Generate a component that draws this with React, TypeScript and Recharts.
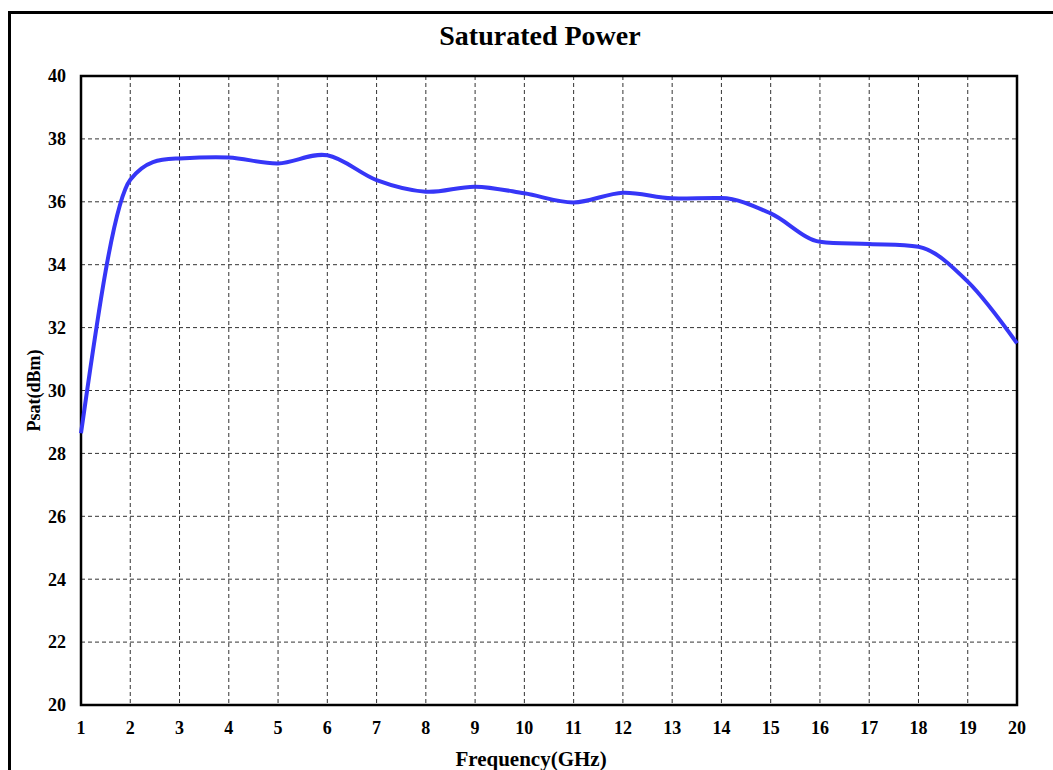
import { CartesianGrid, Line, LineChart, ReferenceArea, XAxis, YAxis } from "recharts";

const frequencies = [1, 2, 3, 4, 5, 6, 7, 8, 9, 10, 11, 12, 13, 14, 15, 16, 17, 18, 19, 20];
const psat = [
  28.64, 36.7, 37.38, 37.41, 37.22, 37.48, 36.69, 36.32, 36.48, 36.27,
  35.98, 36.29, 36.11, 36.12, 35.63, 34.73, 34.66, 34.57, 33.46, 31.5,
];
const xTicks = [1, 2, 3, 4, 5, 6, 7, 8, 9, 10, 11, 12, 13, 14, 15, 16, 17, 18, 19, 20];
const yTicks = [20, 22, 24, 26, 28, 30, 32, 34, 36, 38, 40];

const data = frequencies.map((f, i) => ({ f, psat: psat[i] }));

const FONT = '"Liberation Serif", "Times New Roman", serif';
const tickStyle = { fontFamily: FONT, fontWeight: 700, fontSize: 18, fill: "#000" };

// Excel-like smoothing: Catmull-Rom tangents, clamped so a steep side
// can't make the curve overshoot on the flat side.
function smoothCurve(context: any) {
  let xs: number[] = [];
  let ys: number[] = [];
  return {
    areaStart() {},
    areaEnd() {},
    lineStart() {
      xs = [];
      ys = [];
    },
    point(x: number, y: number) {
      xs.push(+x);
      ys.push(+y);
    },
    lineEnd() {
      const n = xs.length;
      if (!n) return;
      context.moveTo(xs[0], ys[0]);
      if (n === 1) return;
      const s: number[] = [];
      for (let i = 0; i < n - 1; i++) s.push((ys[i + 1] - ys[i]) / (xs[i + 1] - xs[i]));
      const m: number[] = [];
      for (let i = 0; i < n; i++) {
        if (i === 0) m.push(s[0]);
        else if (i === n - 1) m.push(s[n - 2]);
        else {
          let t = (ys[i + 1] - ys[i - 1]) / (xs[i + 1] - xs[i - 1]);
          const lim = 3 * Math.min(Math.abs(s[i - 1]), Math.abs(s[i]));
          if (Math.abs(t) > lim) t = Math.sign(t) * lim;
          m.push(t);
        }
      }
      m[0] = (3 * s[0] - m[1]) / 2;
      m[n - 1] = (3 * s[n - 2] - m[n - 2]) / 2;
      for (let i = 0; i < n - 1; i++) {
        const h = (xs[i + 1] - xs[i]) / 3;
        context.bezierCurveTo(
          xs[i] + h, ys[i] + m[i] * h,
          xs[i + 1] - h, ys[i + 1] - m[i + 1] * h,
          xs[i + 1], ys[i + 1],
        );
      }
    },
  };
}

function XLabel({ viewBox }: any) {
  const x = viewBox.x + viewBox.width / 2 - 18;
  return (
    <text x={x} y={viewBox.y + viewBox.height - 4} textAnchor="middle"
      style={{ fontFamily: FONT, fontWeight: 700, fontSize: 21, fill: "#000" }}>
      Frequency(GHz)
    </text>
  );
}

function YLabel({ viewBox }: any) {
  const x = viewBox.x + 34;
  const y = viewBox.y + viewBox.height / 2;
  return (
    <text x={x} y={y} textAnchor="middle" dominantBaseline="central"
      transform={`rotate(-90, ${x}, ${y})`}
      style={{ fontFamily: FONT, fontWeight: 700, fontSize: 18, fill: "#000" }}>
      Psat(dBm)
    </text>
  );
}

export default function App() {
  return (
    <div style={{ position: "fixed", left: 0, top: 0, width: 1053, height: 770, background: "#fff", overflow: "hidden" }}>
      <div style={{ position: "absolute", left: 8, top: 11, width: 1200, height: 900, border: "3px solid #000" }} />
      <div style={{
        position: "absolute", left: 0, top: 22, width: 1080, textAlign: "center",
        fontFamily: FONT, fontWeight: 700, fontSize: 28, lineHeight: "28px", color: "#000",
      }}>
        Saturated Power
      </div>
      <div style={{ position: "absolute", left: 0, top: 0 }}>
        <LineChart width={1053} height={770} data={data}
          margin={{ top: 76, right: 36, bottom: 0, left: 0 }}>
          <CartesianGrid stroke="#333" strokeDasharray="4 3" strokeWidth={1} />
          <XAxis dataKey="f" type="number" domain={[1, 20]} ticks={xTicks} interval={0}
            height={65} tickSize={0} tickMargin={16} axisLine={false} tickLine={false}
            tick={tickStyle} label={<XLabel />} />
          <YAxis type="number" domain={[20, 40]} ticks={yTicks} interval={0}
            width={81} tickSize={0} tickMargin={15} axisLine={false} tickLine={false}
            tick={tickStyle} label={<YLabel />} />
          <ReferenceArea x1={1} x2={20} y1={20} y2={40} fill="none" stroke="#000" strokeWidth={2.5} />
          <Line type={smoothCurve as any} dataKey="psat" stroke="#3636f7" strokeWidth={4}
            dot={false} activeDot={false} isAnimationActive={false} />
        </LineChart>
      </div>
    </div>
  );
}
